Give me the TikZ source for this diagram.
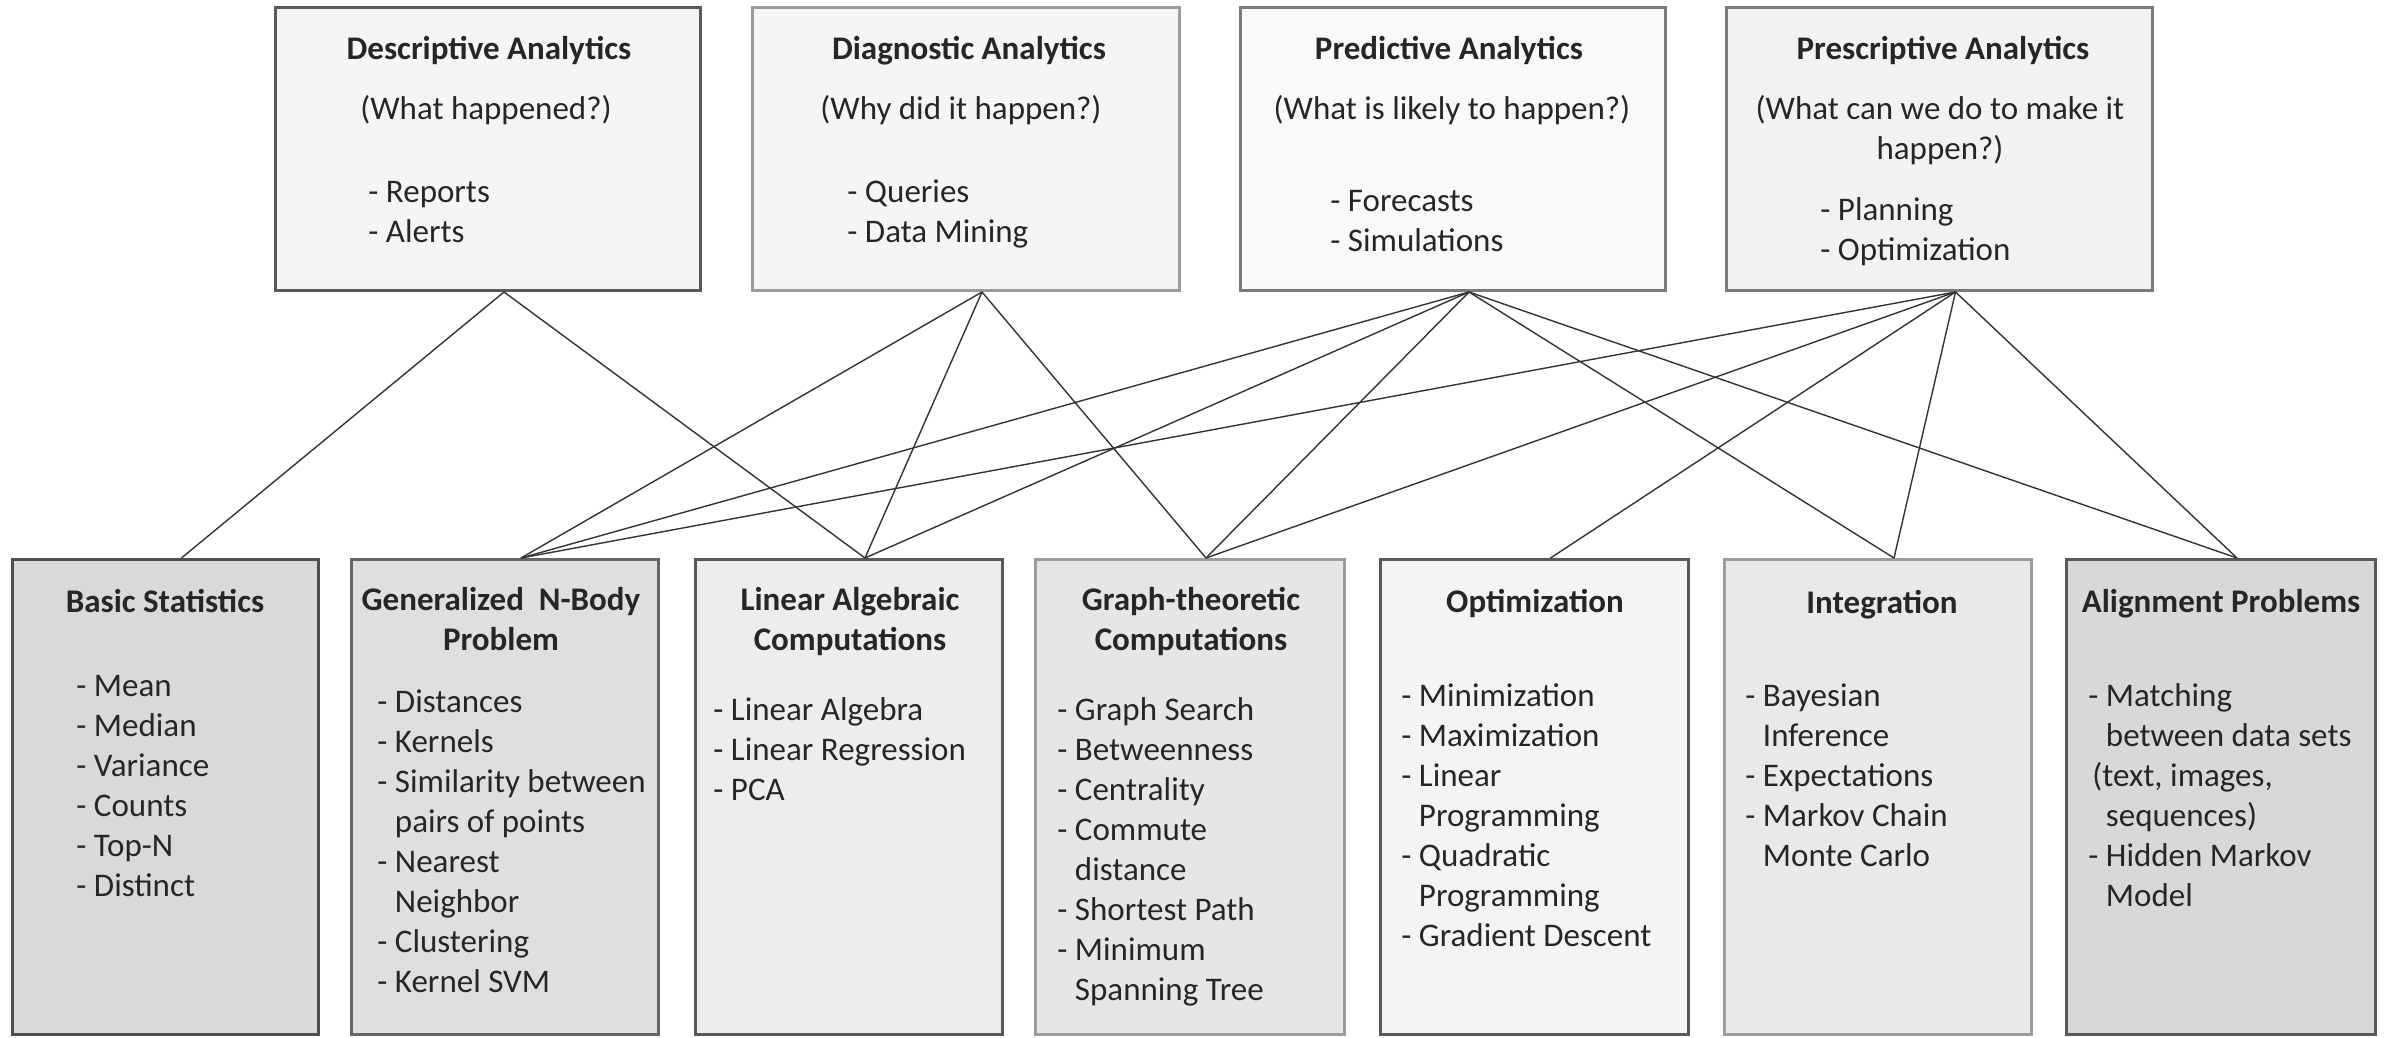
\documentclass[tikz,border=0pt]{standalone}
\usepackage{fontspec}
\setmainfont{Carlito}
\usetikzlibrary{calc}
\definecolor{txt}{HTML}{262626}
\definecolor{ln}{HTML}{333333}
\definecolor{bdA}{HTML}{595959}
\definecolor{bdB}{HTML}{9C9C9E}
\definecolor{bdC}{HTML}{7A7A7A}
\definecolor{bdD}{HTML}{4F4F4F}
\definecolor{bdE}{HTML}{666666}
\definecolor{fA}{HTML}{F5F5F5}
\definecolor{fB}{HTML}{F9F9F9}
\definecolor{fC}{HTML}{F2F2F2}
\definecolor{fD}{HTML}{D9D9DB}
\definecolor{fE}{HTML}{DFDFE1}
\definecolor{fF}{HTML}{EDEDED}
\definecolor{fG}{HTML}{E6E6E8}
\definecolor{fH}{HTML}{F4F4F4}
\definecolor{fI}{HTML}{E9E9E7}
\definecolor{fJ}{HTML}{D8D8DA}
\begin{document}
\begin{tikzpicture}[x=0.5pt,y=-0.5pt,
  box/.style={draw, line width=1.5pt, inner sep=0pt},
  topbox/.style={box, minimum height=141.5pt},
  botbox/.style={box, minimum height=237.5pt},
  basefont/.style={font=\fontsize{16.5}{20}\selectfont, text=txt, inner sep=0pt},
  ttl/.style={basefont, font=\fontsize{16.5}{20}\selectfont\bfseries, anchor=north, align=center},
  sub/.style={basefont, anchor=north, align=center},
  lst/.style={basefont, anchor=north west, align=left},
  conn/.style={draw=ln, line width=0.7pt}]
\useasboundingbox (0,0) rectangle (2389,1038);

% top boxes
\node[topbox, draw=bdA, fill=fA, minimum width=212.5pt] (desc) at (488,149) {};
\node[topbox, draw=bdB, fill=fA, minimum width=213.5pt] (diag) at (966,149) {};
\node[topbox, draw=bdC, fill=fB, minimum width=212.5pt] (pred) at (1453,149) {};
\node[topbox, draw=bdC, fill=fC, minimum width=213pt] (presc) at (1939.5,149) {};

\node[ttl] (desc-t) at (489,31) {\strut Descriptive Analytics};
\node[sub] (desc-s) at (486,91) {\strut (What happened?)};
\node[lst] (desc-l) at (368,174) {\strut - Reports\\\strut - Alerts};

\node[ttl] (diag-t) at (969,31) {\strut Diagnostic Analytics};
\node[sub] (diag-s) at (961,91) {\strut (Why did it happen?)};
\node[lst] (diag-l) at (847,174) {\strut - Queries\\\strut - Data Mining};

\node[ttl] (pred-t) at (1449,31) {\strut Predictive Analytics};
\node[sub] (pred-s) at (1452,91) {\strut (What is likely to happen?)};
\node[lst] (pred-l) at (1330,183) {\strut - Forecasts\\\strut - Simulations};

\node[ttl] (presc-t) at (1943,31) {\strut Prescriptive Analytics};
\node[sub] (presc-s) at (1940,91) {\strut (What can we do to make it\\\strut happen?)};
\node[lst] (presc-l) at (1820,192) {\strut - Planning\\\strut - Optimization};

% bottom boxes
\node[botbox, draw=bdD, fill=fD, minimum width=153pt] (basic) at (165.5,797) {};
\node[botbox, draw=bdE, fill=fE, minimum width=153.5pt] (genn) at (505,797) {};
\node[botbox, draw=bdA, fill=fF, minimum width=153.5pt] (lin) at (849,797) {};
\node[botbox, draw=bdB, fill=fG, minimum width=154.5pt] (graph) at (1190,797) {};
\node[botbox, draw=bdA, fill=fH, minimum width=154pt] (opt) at (1534.5,797) {};
\node[botbox, draw=bdB, fill=fI, minimum width=153.5pt] (integ) at (1878,797) {};
\node[botbox, draw=bdA, fill=fJ, minimum width=154.5pt] (align) at (2221,797) {};

\node[ttl] (basic-t) at (165,584) {\strut Basic Statistics};
\node[lst] (basic-l) at (76,668) {\strut - Mean\\\strut - Median\\\strut - Variance\\\strut - Counts\\\strut - Top-N\\\strut - Distinct};

\node[ttl] (genn-t) at (501,582) {\strut Generalized\ \ N-Body\\\strut Problem};
\node[lst] (genn-l) at (377,684) {\strut - Distances\\\strut - Kernels\\\strut - Similarity between\\\strut\phantom{- }pairs of points\\\strut - Nearest\\\strut\phantom{- }Neighbor\\\strut - Clustering\\\strut - Kernel SVM};

\node[ttl] (lin-t) at (850,582) {\strut Linear Algebraic\\\strut Computations};
\node[lst] (lin-l) at (713,692) {\strut - Linear Algebra\\\strut - Linear Regression\\\strut - PCA};

\node[ttl] (graph-t) at (1191,582) {\strut Graph-theoretic\\\strut Computations};
\node[lst] (graph-l) at (1057,692) {\strut - Graph Search\\\strut - Betweenness\\\strut - Centrality\\\strut - Commute\\\strut\phantom{- }distance\\\strut - Shortest Path\\\strut - Minimum\\\strut\phantom{- }Spanning Tree};

\node[ttl] (opt-t) at (1535,584) {\strut Optimization};
\node[lst] (opt-l) at (1401,678) {\strut - Minimization\\\strut - Maximization\\\strut - Linear\\\strut\phantom{- }Programming\\\strut - Quadratic\\\strut\phantom{- }Programming\\\strut - Gradient Descent};

\node[ttl] (integ-t) at (1882,585) {\strut Integration};
\node[lst] (integ-l) at (1745,678) {\strut - Bayesian\\\strut\phantom{- }Inference\\\strut - Expectations\\\strut - Markov Chain\\\strut\phantom{- }Monte Carlo};

\node[ttl] (align-t) at (2221,584) {\strut Alignment Problems};
\node[lst] (align-l) at (2088,678) {\strut - Matching\\\strut\phantom{- }between data sets\\\strut\hspace{2pt}(text, images,\\\strut\phantom{- }sequences)\\\strut - Hidden Markov\\\strut\phantom{- }Model};

% connector anchors
\foreach \n in {desc,diag,pred,presc} \coordinate (\n-o) at ($(\n.south)+(16,0)$);
\foreach \n in {basic,genn,lin,graph,opt,integ,align} \coordinate (\n-i) at ($(\n.north)+(16,0)$);

% connectors
\foreach \a/\b in {desc/basic, desc/lin,
                   diag/genn, diag/lin, diag/graph,
                   pred/genn, pred/lin, pred/graph, pred/integ, pred/align,
                   presc/genn, presc/graph, presc/opt, presc/integ, presc/align}
  \draw[conn] (\a-o) -- (\b-i);
\end{tikzpicture}
\end{document}
